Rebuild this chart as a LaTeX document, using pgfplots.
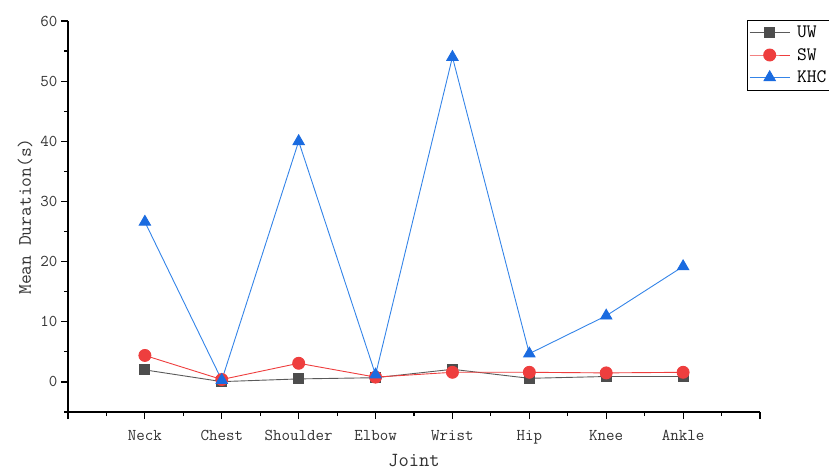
\documentclass[border=0pt]{standalone}
\usepackage{pgfplots}
\pgfplotsset{compat=1.18}
\renewcommand{\familydefault}{\ttdefault}
\definecolor{uwc}{RGB}{77,77,77}
\definecolor{uwl}{RGB}{90,90,90}
\definecolor{swc}{RGB}{238,62,62}
\definecolor{khc}{RGB}{26,107,224}
\definecolor{khl}{RGB}{52,132,232}
\definecolor{tickc}{RGB}{50,50,50}
\begin{document}
\begin{tikzpicture}
\begin{axis}[
  at={(68pt,59pt)}, anchor=south west,
  width=692pt, height=391pt, scale only axis,
  xmin=0, xmax=9, ymin=-5, ymax=60,
  axis x line*=bottom, axis y line*=left,
  axis line style={line width=1.2pt, black},
  xtick={0,...,9},
  xticklabels={,Neck,Chest,Shoulder,Elbow,Wrist,Hip,Knee,Ankle,},
  minor xtick={0.5,1.5,...,8.5},
  ytick={0,10,...,60}, minor ytick={-5,5,...,55},
  tick align=outside, major tick length=7pt, minor tick length=4pt,
  every tick/.style={black, line width=1.2pt},
  /pgf/number format/assume math mode=true,
  ticklabel style={font=\fontsize{16.5}{19}\selectfont\ttfamily, text=tickc},
  xticklabel style={yshift=-8pt},
  xlabel={Joint}, ylabel={Mean Duration(s)},
  every axis x label/.style={at={(axis description cs:0.5,-0.1228)}, anchor=center, font=\fontsize{20}{24}\selectfont\ttfamily, text=tickc},
  every axis y label/.style={at={(axis description cs:-0.0621,0.5)}, anchor=center, rotate=90, font=\fontsize{19}{23}\selectfont\ttfamily, text=tickc},
  clip=false,
  legend style={at={(axis description cs:0.981,1.003)}, anchor=north west, draw=black, line width=0.8pt,
    font=\fontsize{19}{22}\selectfont\ttfamily, row sep=5pt, column sep=5pt, inner xsep=2pt, inner ysep=4pt, text=black},
  legend cell align=left,
  legend image code/.code={\draw[mark repeat=2,mark phase=2,#1] plot coordinates {(0pt,0pt) (20pt,0pt) (40pt,0pt)};},
]
\addplot[uwl, line width=0.9pt, mark=square*, mark size=5pt, mark options={fill=uwc, draw=uwc}] coordinates {
(1,2.0) (2,0.05) (3,0.5) (4,0.7) (5,2.1) (6,0.6) (7,0.9) (8,0.9)};
\addlegendentry{UW}
\addplot[swc, line width=0.9pt, mark=*, mark size=6pt, mark options={fill=swc, draw=swc}] coordinates {
(1,4.4) (2,0.4) (3,3.1) (4,0.8) (5,1.6) (6,1.6) (7,1.5) (8,1.6)};
\addlegendentry{SW}
\addplot[khl, line width=0.9pt, mark=triangle*, mark size=6.5pt, mark options={fill=khc, draw=khc}] coordinates {
(1,26.6) (2,0.3) (3,40.0) (4,1.2) (5,54.0) (6,4.7) (7,11.0) (8,19.2)};
\addlegendentry{KHC}
\end{axis}
\pgfresetboundingbox
\path[use as bounding box] (0,0) rectangle (829pt,471pt);
\end{tikzpicture}
\end{document}
